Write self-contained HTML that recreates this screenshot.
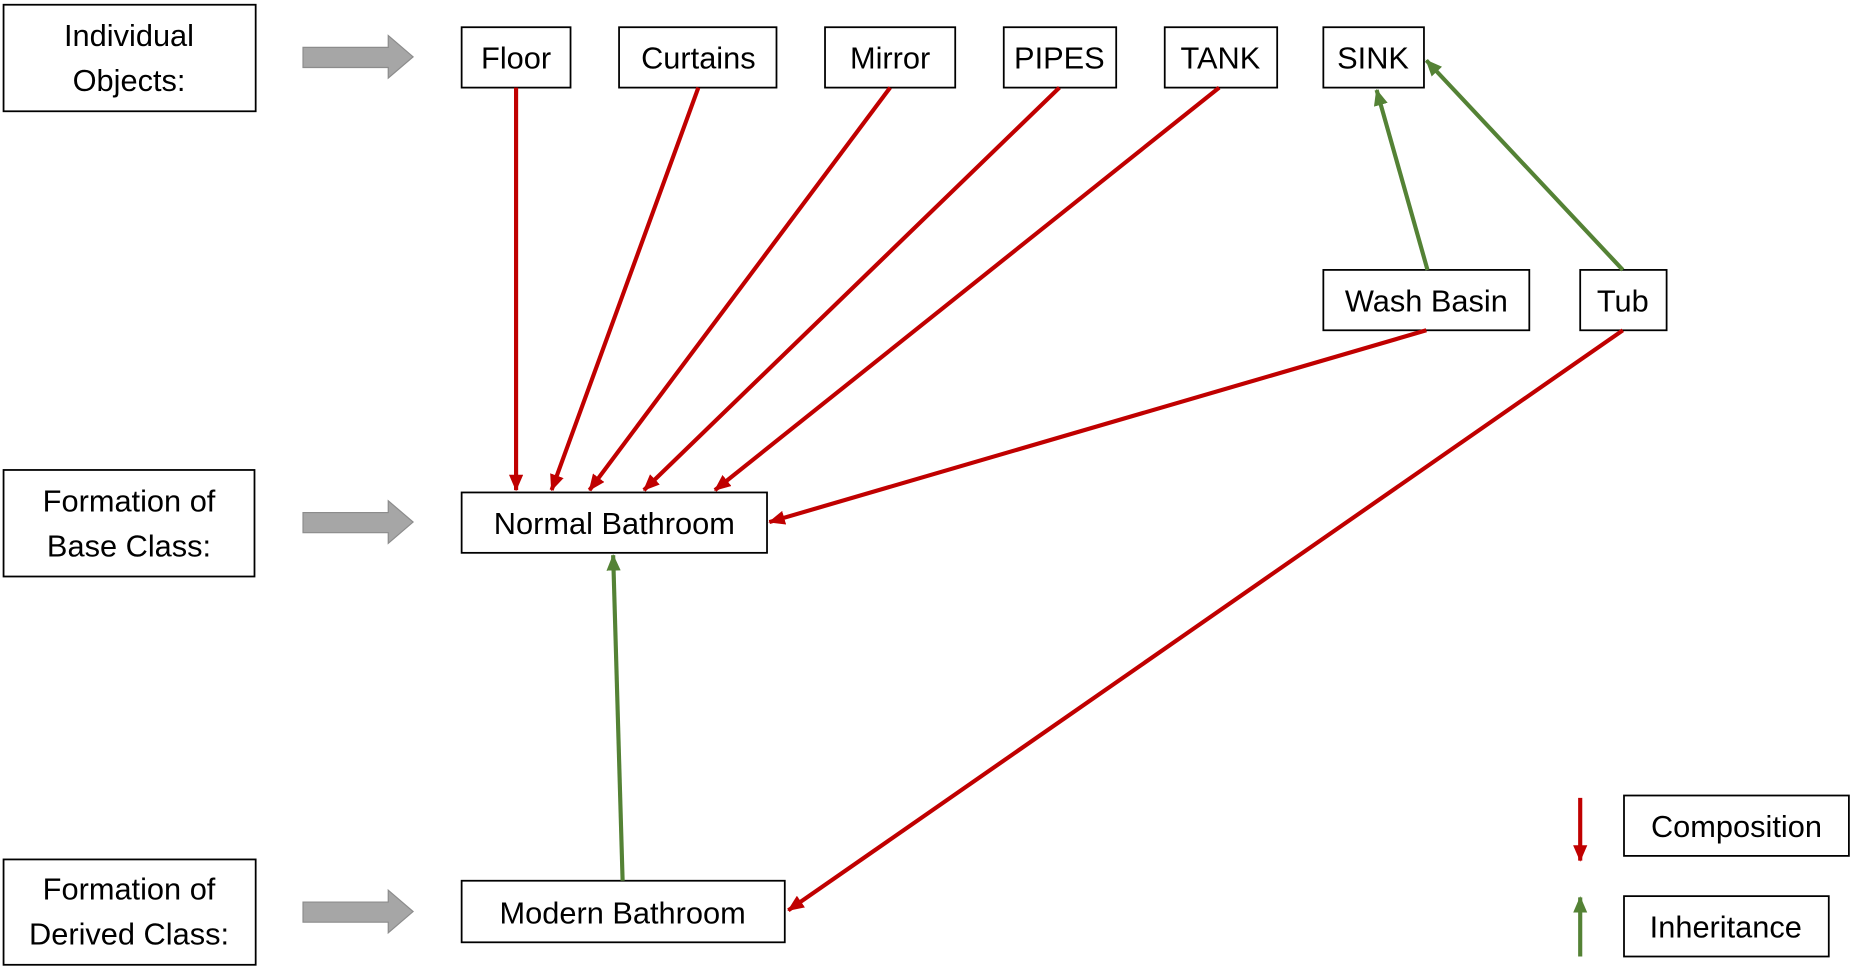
<!DOCTYPE html>
<html><head><meta charset="utf-8"><style>
html,body{margin:0;padding:0;background:#fff;}
svg{display:block;}
text{font-family:"Liberation Sans",sans-serif;font-size:26px;fill:#000;}
</style></head><body>
<svg width="1856" height="979" viewBox="0 0 1568 827" preserveAspectRatio="none" xmlns="http://www.w3.org/2000/svg">
<defs>
<marker id="r" markerWidth="14" markerHeight="12" refX="13" refY="6" orient="auto" markerUnits="userSpaceOnUse"><path d="M0,0 L14,6 L0,12 z" fill="#c00000"/></marker>
<marker id="g" markerWidth="14" markerHeight="12" refX="13" refY="6" orient="auto" markerUnits="userSpaceOnUse"><path d="M0,0 L14,6 L0,12 z" fill="#548235"/></marker>
<g id="ga"><path d="M256,40 L328,40 L328,30 L349,48 L328,66 L328,57 L256,57 z" fill="#a6a6a6" stroke="#8c8c8c" stroke-width="1"/></g>
</defs>
<g fill="#fff" stroke="#000" stroke-width="1.5">
<rect x="3" y="4" width="213" height="90"/>
<rect x="3" y="397" width="212" height="90"/>
<rect x="3" y="726" width="213" height="89"/>
<rect x="390" y="23" width="92" height="51"/>
<rect x="523" y="23" width="133" height="51"/>
<rect x="697" y="23" width="110" height="51"/>
<rect x="848" y="23" width="95" height="51"/>
<rect x="984" y="23" width="95" height="51"/>
<rect x="1118" y="23" width="85" height="51"/>
<rect x="1118" y="228" width="174" height="51"/>
<rect x="1335" y="228" width="73" height="51"/>
<rect x="390" y="416" width="258" height="51"/>
<rect x="390" y="744" width="273" height="52"/>
<rect x="1372" y="672" width="190" height="51"/>
<rect x="1372" y="757" width="173" height="51"/>
</g>
<use href="#ga"/>
<use href="#ga" y="393"/>
<use href="#ga" y="722"/>
<g stroke="#c00000" stroke-width="3.5" marker-end="url(#r)">
<line x1="436" y1="74" x2="436" y2="414"/>
<line x1="590" y1="74" x2="466" y2="414"/>
<line x1="752" y1="74" x2="498" y2="414"/>
<line x1="895" y1="74" x2="544" y2="414"/>
<line x1="1030" y1="74" x2="604" y2="414"/>
<line x1="1205" y1="279" x2="650" y2="441"/>
<line x1="1371" y1="279" x2="666" y2="769"/>
<line x1="1335" y1="674" x2="1335" y2="727"/>
</g>
<g stroke="#548235" stroke-width="3.5" marker-end="url(#g)">
<line x1="1206" y1="228" x2="1163" y2="76"/>
<line x1="1371" y1="228" x2="1205" y2="51"/>
<line x1="526" y1="744" x2="518" y2="469"/>
<line x1="1335" y1="808" x2="1335" y2="758"/>
</g>
<g text-anchor="middle">
<text x="109" y="39">Individual</text>
<text x="109" y="77">Objects:</text>
<text x="109" y="432">Formation of</text>
<text x="109" y="470">Base Class:</text>
<text x="109" y="760">Formation of</text>
<text x="109" y="798">Derived Class:</text>
<text x="436" y="58">Floor</text>
<text x="590" y="58">Curtains</text>
<text x="752" y="58">Mirror</text>
<text x="895" y="58">PIPES</text>
<text x="1031" y="58">TANK</text>
<text x="1160" y="58">SINK</text>
<text x="1205" y="263">Wash Basin</text>
<text x="1371" y="263">Tub</text>
<text x="519" y="451">Normal Bathroom</text>
<text x="526" y="780">Modern Bathroom</text>
<text x="1467" y="707">Composition</text>
<text x="1458" y="792">Inheritance</text>
</g>
</svg>
</body></html>
